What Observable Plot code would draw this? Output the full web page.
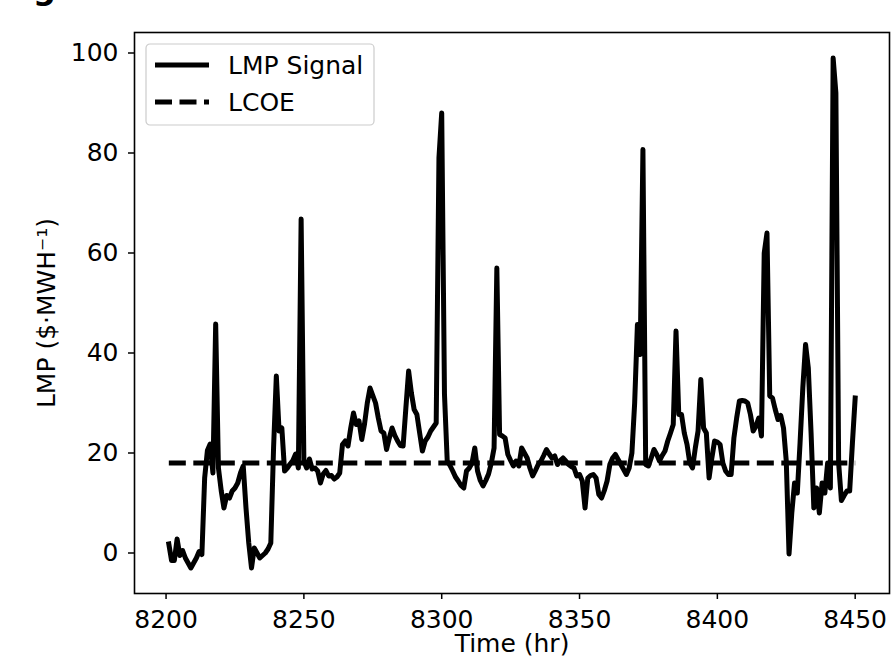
<!DOCTYPE html>
<html>
<head>
<meta charset="utf-8">
<script src="https://cdn.jsdelivr.net/npm/d3@7"></script>
<script src="https://cdn.jsdelivr.net/npm/@observablehq/plot@0.6"></script>
<style>
  html, body { margin: 0; padding: 0; background: white; }
  #wrap { position: relative; width: 893px; height: 658px; overflow: hidden; font-family: "DejaVu Sans", sans-serif; }
  #legend { position: absolute; left: 145px; top: 43px; }
</style>
</head>
<body>
<div id="wrap"></div>
<script>
// ---- data ----
const startHour = 8201;
const lmpValues = [
  1.8, -1.5, -1.5, 2.8, -0.5, 0.5, -1, -2, -3, -2,
  -1, 0.3, -0.3, 15, 20.5, 21.8, 16, 45.8, 17, 12.5,
  9, 11.5, 11, 12.4, 13, 14, 16, 17.4, 9, 2,
  -3, 1, 0, -1, -0.5, 0, 0.8, 2, 21, 35.4,
  24.4, 25, 16.4, 17, 17.8, 18.5, 19.8, 17, 66.8, 18.4,
  17, 18.8, 16.8, 17, 16.4, 14, 15.8, 16.5, 15.4, 15.5,
  14.8, 15.2, 16, 21.7, 22.4, 21.4, 25, 28, 25.7, 26.4,
  22.7, 25.8, 30, 33, 31.5, 30, 27, 24.4, 24, 20.7,
  23, 25, 23.5, 22.4, 21.5, 21.4, 29, 36.4, 32, 28.7,
  27.7, 24, 20.4, 22.4, 23.2, 24.4, 25.2, 26, 79, 88,
  31.8, 18.4, 17.5, 16.4, 15.2, 14.4, 13.5, 13, 16.4, 17,
  18, 21, 16.4, 14.5, 13.4, 14.5, 15.8, 18, 21, 57,
  23.7, 23.4, 23, 19.7, 18.5, 17.4, 18.4, 17.4, 21, 20,
  19, 17, 15.4, 16.5, 17.7, 18.4, 19.5, 20.7, 19.8, 19,
  19.4, 17.7, 18.5, 19, 18.4, 17.7, 17.3, 17, 15.4, 15.7,
  14.4, 9, 15, 15.5, 15.7, 15, 11.7, 11, 12.5, 14.4,
  17.7, 19, 19.7, 18.7, 17.7, 16.7, 15.7, 17, 20, 30,
  45.7, 39.7, 80.7, 17.7, 17.4, 19, 20.7, 19.7, 18.4, 19.5,
  20.4, 22.4, 24, 25.7, 44.4, 27.7, 27.7, 24, 21.7, 18,
  17, 21, 24.4, 34.7, 25, 24, 15, 19, 22.4, 22.2,
  21.7, 18, 16.4, 15.7, 15.7, 23, 27, 30.4, 30.5, 30.4,
  30, 27.7, 24.4, 25.4, 27, 23.4, 60, 64, 31.4, 31,
  28.7, 26.7, 27.5, 25, 18.4, -0.2, 8, 14, 12, 22,
  33, 41.7, 37, 24, 9, 13, 8, 14, 12, 18,
  13, 99, 92, 18, 10.5, 11.5, 12.4, 12.4, 22, 31
];
const lcoeValue = 18;
const xTicks = [8200, 8250, 8300, 8350, 8400, 8450];
const yTicks = [0, 20, 40, 60, 80, 100];
const seriesNames = ["LMP Signal", "LCOE"];
const xLabel = "Time (hr)";
const yLabel = "LMP ($·MWH⁻¹)";
const panelLabel = "g";

// ---- tables ----
const lmp = lmpValues.map((v, i) => ({hour: startHour + i, value: v}));
const firstHour = lmp[0].hour, lastHour = lmp[lmp.length - 1].hour;
const lcoe = [{hour: firstHour, value: lcoeValue}, {hour: lastHour, value: lcoeValue}];

// matplotlib-like 5% margins
const xMin = firstHour, xMax = lastHour;
const yMin = d3.min(lmpValues), yMax = d3.max(lmpValues);
const xPad = (xMax - xMin) * 0.05, yPad = (yMax - yMin) * 0.05;

const FS = 25;
const LW = 5;
const chart = Plot.plot({
  width: 893,
  height: 658,
  marginLeft: 134,
  marginRight: 4,
  marginTop: 32,
  marginBottom: 65,
  style: {fontFamily: "DejaVu Sans", fontSize: FS + "px", color: "black", background: "white", overflow: "visible"},
  x: {domain: [xMin - xPad, xMax + xPad]},
  y: {domain: [yMin - yPad, yMax + yPad]},
  marks: [
    Plot.line(lmp, {x: "hour", y: "value", stroke: "black", strokeWidth: LW, strokeLinejoin: "round", strokeLinecap: "square"}),
    Plot.line(lcoe, {x: "hour", y: "value", stroke: "black", strokeWidth: LW, strokeDasharray: "17,7.5", strokeLinecap: "butt"}),
    Plot.frame({stroke: "black", strokeWidth: 1.6}),
    Plot.axisX({ticks: xTicks, tickFormat: d => String(d), tickSize: 6, tickPadding: 11, strokeWidth: 1.5, fontSize: FS, label: null}),
    Plot.axisY({ticks: yTicks, tickFormat: d => String(d), tickSize: 6, tickPadding: 10, strokeWidth: 1.5, fontSize: FS, label: null}),
    Plot.text([yLabel], {frameAnchor: "left", dx: -88, rotate: -90, text: d => d, fontSize: FS, textAnchor: "middle", fill: "black"}),
    Plot.text([xLabel], {frameAnchor: "bottom", dy: 58, text: d => d, fontSize: FS, textAnchor: "middle", fill: "black"}),
    Plot.text([panelLabel], {frameAnchor: "top-left", dx: -90, dy: -34, lineAnchor: "bottom", text: d => d, fontSize: 32, fontWeight: "bold", textAnchor: "middle", fill: "black"})
  ]
});
document.getElementById("wrap").appendChild(chart);

// legend (inside axes, upper left)
const ns = "http://www.w3.org/2000/svg";
const leg = document.createElementNS(ns, "svg");
leg.setAttribute("id", "legend");
leg.setAttribute("width", 231);
leg.setAttribute("height", 84);
leg.innerHTML = `
  <rect x="1" y="1" width="228" height="81" rx="4" ry="4" fill="white" fill-opacity="0.8" stroke="#cccccc" stroke-width="1.2"></rect>
  <line x1="10" x2="64" y1="22" y2="22" stroke="black" stroke-width="${LW}" stroke-linecap="butt"></line>
  <line x1="10" x2="64" y1="59" y2="59" stroke="black" stroke-width="${LW}" stroke-dasharray="17,7.5" stroke-linecap="butt"></line>
  <text x="83" y="31" font-family="DejaVu Sans" font-size="${FS}" fill="black">${seriesNames[0]}</text>
  <text x="83" y="68" font-family="DejaVu Sans" font-size="${FS}" fill="black">${seriesNames[1]}</text>
`;
document.getElementById("wrap").appendChild(leg);
</script>
</body>
</html>
